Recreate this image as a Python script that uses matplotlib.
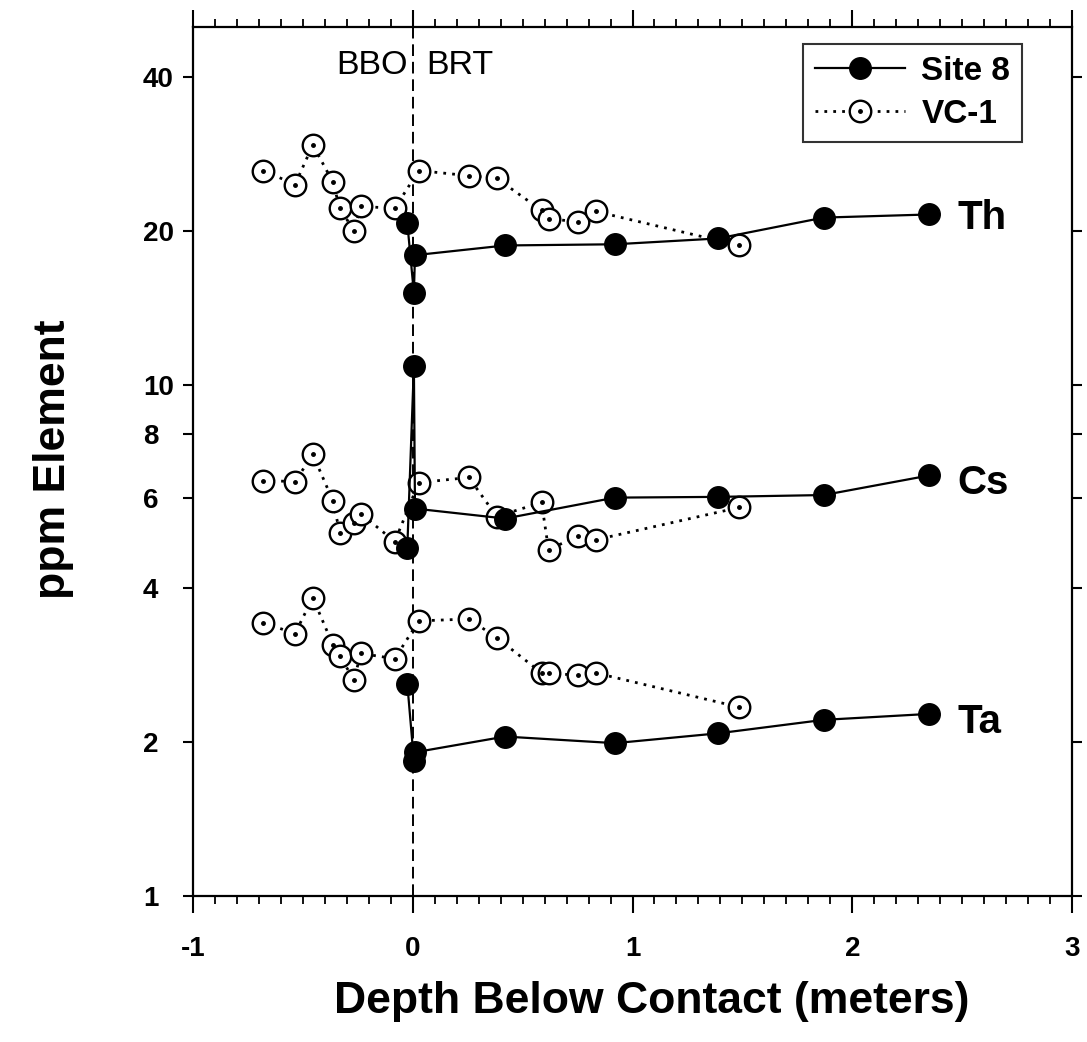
import matplotlib
matplotlib.use("Agg")
import matplotlib.pyplot as plt
from matplotlib.ticker import FixedLocator, FixedFormatter, MultipleLocator
from matplotlib.legend_handler import HandlerTuple

plt.rcParams["font.family"] = ["Liberation Sans", "DejaVu Sans"]
plt.rcParams["axes.unicode_minus"] = False

# Site 8 (filled circles, solid line)
site8_x = [-0.025, 0.005, 0.01, 0.42, 0.92, 1.39, 1.87, 2.35]
site8_th = [20.7, 15.1, 17.9, 18.7, 18.8, 19.3, 21.2, 21.5]
site8_cs = [4.8, 10.85, 5.72, 5.47, 6.01, 6.03, 6.08, 6.64]
site8_ta = [2.60, 1.84, 1.91, 2.05, 1.99, 2.08, 2.21, 2.27]

# VC-1 (open circles, dotted line)
vc1_x = [-0.68, -0.536, -0.455, -0.364, -0.332, -0.268, -0.236, -0.082,
         0.027, 0.255, 0.382, 0.586, 0.618, 0.75, 0.832, 1.486]
vc1_th = [26.2, 24.6, 29.4, 24.9, 22.1, 20.0, 22.3, 22.1,
          26.2, 25.6, 25.3, 21.9, 21.1, 20.8, 21.8, 18.7]
vc1_cs = [6.49, 6.46, 7.30, 5.93, 5.13, 5.37, 5.59, 4.93,
          6.43, 6.58, 5.52, 5.88, 4.75, 5.06, 4.97, 5.75]
vc1_ta = [3.42, 3.26, 3.83, 3.10, 2.94, 2.65, 2.98, 2.91,
          3.45, 3.48, 3.20, 2.73, 2.73, 2.70, 2.73, 2.34]

elements = ["Th", "Cs", "Ta"]
label_y = [20.1, 6.1, 2.08]
y_ticks = [1, 2, 4, 6, 8, 10, 20, 40]
x_ticks = [-1, 0, 1, 2, 3]

fig = plt.figure(figsize=(10.87, 10.42), dpi=100)
ax = fig.add_axes([0.1776, 0.1401, 0.8086, 0.834])
ax.set_yscale("log")
ax.set_xlim(-1, 3)
ax.set_ylim(1, 50)

# contact line
ax.axvline(0, color="black", lw=1.4, ls=(0, (6, 3)), zorder=1)

s8_handle = None
vc_handle = None
vc_dot = None
for vc_vals, s8_vals in [(vc1_th, site8_th), (vc1_cs, site8_cs), (vc1_ta, site8_ta)]:
    (vc_handle,) = ax.plot(vc1_x, vc_vals, ls=(0, (1, 2.2)), lw=2, color="black",
                           marker="o", ms=15.5, mfc="white", mec="black", mew=1.7, zorder=2)
    (vc_dot,) = ax.plot(vc1_x, vc_vals, ls="none", marker="o", ms=2.5,
                        color="black", zorder=3)
    (s8_handle,) = ax.plot(site8_x, s8_vals, ls="-", lw=1.6, color="black",
                           marker="o", ms=15.5, mfc="black", mec="black", zorder=4)

for name, ly in zip(elements, label_y):
    ax.text(2.48, ly, name, fontsize=29, fontweight="bold", ha="left", va="baseline")

ax.text(-0.023, 40.4, "BBO", fontsize=24.5, ha="right", va="baseline")
ax.text(0.06, 40.4, "BRT", fontsize=24.5, ha="left", va="baseline")

# ticks
ax.yaxis.set_major_locator(FixedLocator(y_ticks))
ax.yaxis.set_major_formatter(FixedFormatter([str(v) for v in y_ticks]))
ax.yaxis.set_minor_locator(FixedLocator([]))
ax.xaxis.set_major_locator(FixedLocator(x_ticks))
ax.xaxis.set_minor_locator(MultipleLocator(0.1))
ax.tick_params(axis="x", which="major", direction="out", length=12, width=1.5,
               labelsize=20, pad=17, top=True)
ax.tick_params(axis="x", which="minor", direction="out", length=6, width=1.3,
               top=True, bottom=True)
ax.tick_params(axis="y", which="major", direction="out", length=7, width=1.5,
               labelsize=20, pad=29, right=True)
for lab in ax.get_xticklabels():
    lab.set_fontweight("bold")
for lab in ax.get_yticklabels():
    lab.set_fontweight("bold")
    lab.set_horizontalalignment("left")
for sp in ax.spines.values():
    sp.set_linewidth(1.6)

ax.set_xlabel("Depth Below Contact (meters)", fontsize=32, fontweight="bold")
ax.xaxis.set_label_coords(0.522, -0.098)
ax.set_ylabel("ppm Element", fontsize=32, fontweight="bold")
ax.yaxis.set_label_coords(-0.135, 0.503)

leg = ax.legend([s8_handle, (vc_handle, vc_dot)], ["Site 8", "VC-1"],
                handler_map={tuple: HandlerTuple(ndivide=1, pad=0)},
                loc="upper right", bbox_to_anchor=(0.943, 0.98),
                prop={"size": 24, "weight": "bold"}, frameon=True, fancybox=False,
                edgecolor="black", handlelength=2.7, borderpad=0.35,
                labelspacing=0.36, handletextpad=0.5, borderaxespad=0)
leg.get_frame().set_linewidth(1.5)

fig.savefig("out.png", dpi=100)
